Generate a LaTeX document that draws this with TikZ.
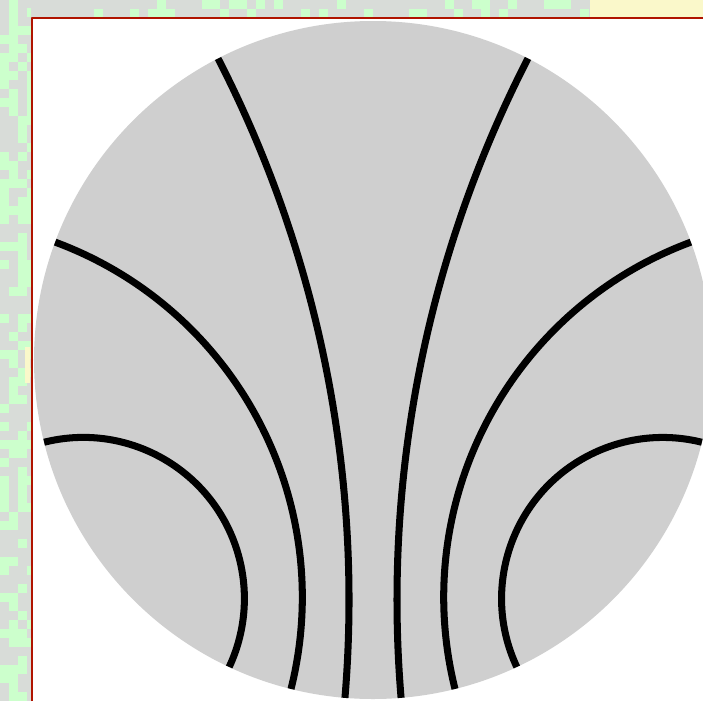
\documentclass[tikz,border=0pt]{standalone}
\definecolor{diskgray}{RGB}{207,207,207}
\definecolor{noisegreen}{RGB}{204,255,204}
\definecolor{noisegray}{RGB}{216,220,216}
\definecolor{noiseyellow}{RGB}{250,248,202}
\definecolor{framered}{RGB}{176,20,0}
\tikzset{geodesic/.style={line width=4pt, black}}
\begin{document}
\begin{tikzpicture}[x=0.02cm, y=0.02cm, line join=round]
	\def\R{339}
	\def\xmin{-373} \def\xmax{330}
	\def\ymin{-341} \def\ymax{360}
	\useasboundingbox (\xmin,\ymin) rectangle (\xmax,\ymax);
	% pixel noise round the frame
	\fill[noisegreen] (\xmin,\ymin) rectangle (\xmax,\ymax);
	\pgfmathsetseed{12}
	\foreach \i in {0,...,3} \foreach \j in {0,...,78} {
		\pgfmathrandominteger{\k}{0}{9}
		\ifnum\k<6 \fill[noisegray] (\xmin+9*\i,\ymin+9*\j) rectangle ++(9,9); \fi
	}
	\foreach \i in {0,...,62} \foreach \j in {0,1} {
		\pgfmathrandominteger{\k}{0}{9}
		\ifnum\k<7 \fill[noisegray] (-342+9*\i,342+9*\j) rectangle ++(9,9); \fi
	}
	\fill[noiseyellow] (217,342) rectangle (\xmax,\ymax);
	\fill[noiseyellow] (-348,-23) rectangle (-343,13);
	% frame
	\fill[white] (-341.3,\ymin) rectangle (\xmax,342);
	\draw[framered, line width=1.1pt] (-341.3,\ymin) |- (\xmax,342);
	% disk and geodesics
	\fill[diskgray] (0,0) circle (\R);
	\foreach \a/\b in {117.2/265.25, 159.65/256, 194.04/244.9, -85.25/62.8, -76/20.35, -64.9/-14.04} {
		\pgfmathsetmacro\h{(\b-\a)/2}
		\draw[geodesic] (\a:\R) arc[start angle=\a-90, end angle=\b-270, radius={\R*tan(\h)}];
	}
\end{tikzpicture}
\end{document}
